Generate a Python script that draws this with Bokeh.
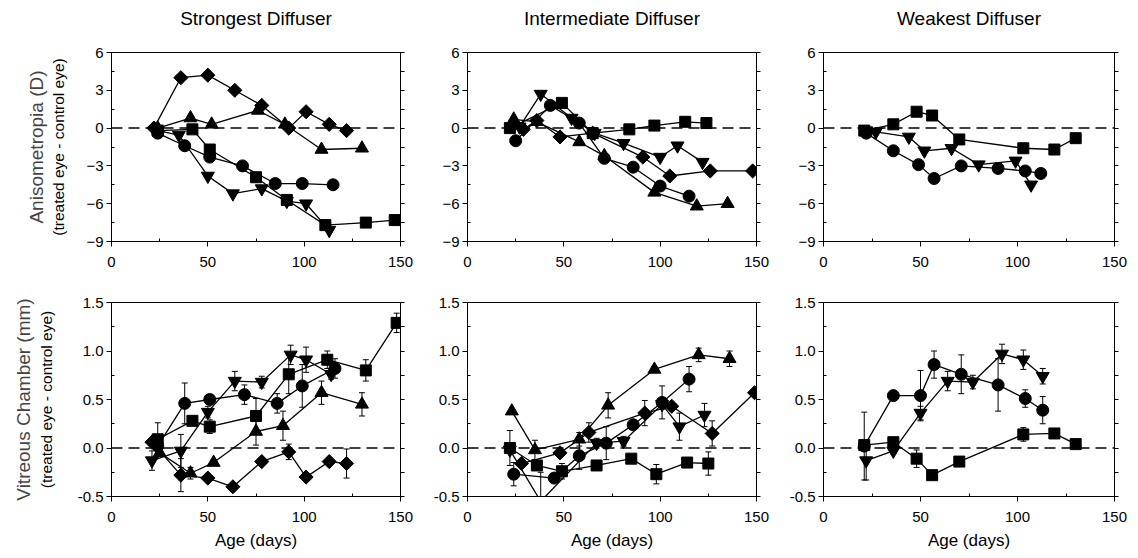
import math
from bokeh.plotting import figure
from bokeh.layouts import column, row
from bokeh.models import (Range1d, FixedTicker, LinearAxis, Span, Whisker, TeeHead,
                          ColumnDataSource, Title, NumeralTickFormatter)
from bokeh.embed import file_html
from bokeh.resources import INLINE

FONT = "Liberation Sans"

# ---------------- data ----------------
col_titles = ["Strongest Diffuser", "Intermediate Diffuser", "Weakest Diffuser"]
x_ticks = [0, 50, 100, 150]
aniso_ticks = [-9, -6, -3, 0, 3, 6]
vc_ticks = [-0.5, 0.0, 0.5, 1.0, 1.5]

# Strongest diffuser - anisometropia (D)
s_ani_circle_x = [24, 38, 51, 68, 85, 99, 115]
s_ani_circle_y = [-0.4, -1.4, -2.3, -3.0, -4.4, -4.4, -4.5]
s_ani_square_x = [24, 42, 51, 75, 91, 111, 132, 147]
s_ani_square_y = [-0.2, -0.1, -1.7, -3.9, -5.7, -7.7, -7.5, -7.3]
s_ani_tri_x = [24, 41, 52, 76, 90, 109, 130]
s_ani_tri_y = [0.0, 0.8, 0.3, 1.4, 0.3, -1.7, -1.6]
s_ani_dtri_x = [24, 35, 50, 63, 78, 91, 101, 113]
s_ani_dtri_y = [-0.2, -0.55, -3.8, -5.2, -4.8, -5.8, -6.0, -8.1]
s_ani_diam_x = [22, 36, 50, 64, 78, 92, 101, 113, 122]
s_ani_diam_y = [0.0, 4.0, 4.2, 3.0, 1.8, 0.0, 1.3, 0.3, -0.2]

# Intermediate diffuser - anisometropia (D)
i_ani_circle_x = [25, 43, 58, 71, 86, 100, 115]
i_ani_circle_y = [-1.0, 1.8, 0.4, -2.4, -3.1, -4.6, -5.4]
i_ani_square_x = [22, 49, 65, 84, 97, 113, 124]
i_ani_square_y = [0.0, 2.0, -0.4, -0.1, 0.2, 0.5, 0.4]
i_ani_tri_x = [24, 36, 58, 71, 97, 119, 135]
i_ani_tri_y = [0.7, 0.5, -1.1, -2.2, -5.1, -6.2, -6.0]
i_ani_dtri_x = [27, 38, 54, 66, 81, 100, 109, 122]
i_ani_dtri_y = [0.1, 2.7, 0.8, -0.4, -1.2, -2.3, -1.4, -2.7]
i_ani_diam_x = [29, 36, 48, 65, 91, 105, 126, 148]
i_ani_diam_y = [-0.1, 0.6, -0.7, -0.4, -2.3, -3.8, -3.4, -3.4]

# Weakest diffuser - anisometropia (D)
w_ani_circle_x = [22, 36, 49, 57, 71, 90, 104, 112]
w_ani_circle_y = [-0.4, -1.8, -2.9, -4.0, -3.0, -3.2, -3.4, -3.6]
w_ani_square_x = [21, 36, 48, 56, 70, 103, 119, 130]
w_ani_square_y = [-0.2, 0.3, 1.3, 1.0, -0.9, -1.6, -1.7, -0.8]
w_ani_dtri_x = [22, 27, 44, 52, 66, 80, 99, 107]
w_ani_dtri_y = [-0.2, -0.3, -0.7, -1.8, -1.6, -2.9, -2.6, -4.5]

# Strongest diffuser - vitreous chamber (mm), with error bars
s_vc_circle_x = [24, 38, 51, 69, 86, 99, 116]
s_vc_circle_y = [0.02, 0.46, 0.50, 0.55, 0.46, 0.64, 0.82]
s_vc_circle_e = [0, 0.21, 0.05, 0.10, 0.10, 0.22, 0.10]
s_vc_square_x = [24, 42, 51, 75, 92, 112, 132, 148]
s_vc_square_y = [0.09, 0.28, 0.22, 0.33, 0.76, 0.91, 0.80, 1.29]
s_vc_square_e = [0.17, 0.05, 0.07, 0.18, 0.20, 0.09, 0.11, 0.10]
s_vc_tri_x = [25, 41, 53, 75, 89, 109, 130]
s_vc_tri_y = [-0.05, -0.26, -0.15, 0.17, 0.23, 0.57, 0.45]
s_vc_tri_e = [0, 0.06, 0.03, 0.14, 0.15, 0.12, 0.12]
s_vc_dtri_x = [21, 36, 50, 64, 78, 93, 101, 114]
s_vc_dtri_y = [-0.13, -0.03, 0.37, 0.69, 0.68, 0.96, 0.91, 0.76]
s_vc_dtri_e = [0.10, 0.17, 0.06, 0.10, 0.06, 0.10, 0.13, 0.05]
s_vc_diam_x = [21, 36, 50, 63, 78, 92, 101, 113, 122]
s_vc_diam_y = [0.06, -0.28, -0.31, -0.40, -0.14, -0.04, -0.30, -0.14, -0.16]
s_vc_diam_e = [0, 0.17, 0.04, 0.02, 0.03, 0.08, 0.03, 0.03, 0.15]

# Intermediate diffuser - vitreous chamber (mm)
i_vc_circle_x = [24, 45, 58, 72, 86, 101, 115]
i_vc_circle_y = [-0.27, -0.31, -0.08, 0.05, 0.24, 0.47, 0.71]
i_vc_circle_e = [0.12, 0.03, 0.14, 0.17, 0.05, 0.17, 0.13]
i_vc_square_x = [22, 36, 49, 67, 85, 98, 114, 125]
i_vc_square_y = [0.0, -0.18, -0.24, -0.18, -0.11, -0.27, -0.15, -0.16]
i_vc_square_e = [0.18, 0.03, 0.08, 0.03, 0.03, 0.10, 0.03, 0.12]
i_vc_tri_x = [23, 35, 58, 73, 97, 120, 136]
i_vc_tri_y = [0.38, -0.02, 0.09, 0.44, 0.81, 0.96, 0.92]
i_vc_tri_e = [0, 0.10, 0.07, 0.13, 0.03, 0.07, 0.08]
i_vc_dtri_x = [22, 38, 67, 81, 101, 110, 123]
i_vc_dtri_y = [-0.02, -0.55, 0.05, 0.07, 0.45, 0.22, 0.34]
i_vc_dtri_e = [0, 0.30, 0.05, 0.05, 0.05, 0.14, 0.12]
i_vc_diam_x = [28, 48, 63, 92, 106, 127, 149]
i_vc_diam_y = [-0.16, -0.05, 0.16, 0.36, 0.43, 0.15, 0.57]
i_vc_diam_e = [0, 0.02, 0.10, 0.13, 0.04, 0.13, 0]

# Weakest diffuser - vitreous chamber (mm)
w_vc_circle_x = [21, 36, 50, 57, 71, 90, 104, 113]
w_vc_circle_y = [0.02, 0.54, 0.54, 0.86, 0.76, 0.65, 0.51, 0.39]
w_vc_circle_e = [0.35, 0.03, 0.26, 0.14, 0.20, 0.27, 0.09, 0.14]
w_vc_dtri_x = [22, 36, 50, 64, 77, 92, 103, 113]
w_vc_dtri_y = [-0.13, -0.03, 0.36, 0.69, 0.68, 0.97, 0.91, 0.74]
w_vc_dtri_e = [0.20, 0.03, 0.07, 0.10, 0.07, 0.10, 0.10, 0.08]
w_vc_square_x = [21, 36, 48, 56, 70, 103, 119, 130]
w_vc_square_y = [0.03, 0.06, -0.11, -0.28, -0.14, 0.14, 0.15, 0.04]
w_vc_square_e = [0.03, 0.03, 0.09, 0.03, 0.03, 0.07, 0.03, 0.03]

# ---------------- styling ----------------
MARK = {
    "circle": dict(marker="circle", size=12, angle=0),
    "square": dict(marker="square", size=11, angle=0),
    "tri": dict(marker="triangle", size=13, angle=0),
    "dtri": dict(marker="inverted_triangle", size=13, angle=0),
    "diam": dict(marker="square", size=10, angle=math.pi / 4),
}

COL_FW = [289, 289, 291]
COL_BL = [111, 42, 37]
COL_BR = [25, 30, 24]
ROW_FH = [189, 194]
ROW_BT = [52, 32]
ROW_BB = [29, 62]


def draw_series(p, kind, xs, ys, errs=None):
    if errs is not None:
        ex = [x for x, e in zip(xs, errs) if e > 0]
        up = [y + e for y, e in zip(ys, errs) if e > 0]
        lo = [y - e for y, e in zip(ys, errs) if e > 0]
        src = ColumnDataSource(dict(x=ex, upper=up, lower=lo))
        w = Whisker(source=src, base="x", upper="upper", lower="lower",
                    line_color="black", line_width=1, level="underlay",
                    upper_head=TeeHead(size=6, line_color="black", line_width=1),
                    lower_head=TeeHead(size=6, line_color="black", line_width=1))
        p.add_layout(w)
    p.line(xs, ys, line_color="black", line_width=1.3)
    m = MARK[kind]
    p.scatter(xs, ys, marker=m["marker"], size=m["size"], angle=m["angle"],
              fill_color="black", line_color="black")


def make_panel(ci, ri, series):
    yr = Range1d(-9, 6) if ri == 0 else Range1d(-0.5, 1.5)
    p = figure(frame_width=COL_FW[ci], frame_height=ROW_FH[ri],
               min_border_left=COL_BL[ci], min_border_right=COL_BR[ci],
               min_border_top=ROW_BT[ri], min_border_bottom=ROW_BB[ri],
               x_range=Range1d(0, 150), y_range=yr,
               output_backend="svg", toolbar_location=None)
    p.background_fill_color = "white"
    p.border_fill_color = "white"
    p.outline_line_color = "black"
    p.outline_line_width = 1
    p.xgrid.visible = False
    p.ygrid.visible = False

    xa = p.below[0]
    ya = p.left[0]

    if ri == 0:
        # column title as the label of a tick-less axis above the frame
        ta = LinearAxis(ticker=FixedTicker(ticks=[], minor_ticks=[]),
                        axis_label=col_titles[ci])
        ta.axis_line_color = None
        ta.major_tick_line_color = None
        ta.minor_tick_line_color = None
        ta.major_label_text_color = None
        ta.major_tick_out = 0
        ta.minor_tick_out = 0
        ta.major_label_standoff = 0
        ta.axis_label_standoff = 24
        ta.axis_label_text_font = FONT
        ta.axis_label_text_font_size = "19px"
        ta.axis_label_text_font_style = "normal"
        ta.axis_label_text_color = "black"
        p.add_layout(ta, "above")

    span = Span(location=0, dimension="width", line_color="black",
                line_width=1.5, line_dash="11 6", level="underlay")
    p.add_layout(span)

    for s in series:
        draw_series(p, *s)

    xa.ticker = FixedTicker(ticks=x_ticks, minor_ticks=[25, 75, 125])
    if ri == 0:
        ya.ticker = FixedTicker(ticks=aniso_ticks, minor_ticks=[-7.5, -4.5, -1.5, 1.5, 4.5])
    else:
        ya.ticker = FixedTicker(ticks=vc_ticks, minor_ticks=[-0.25, 0.25, 0.75, 1.25])
        ya.formatter = NumeralTickFormatter(format="0.0")

    for ax in (xa, ya):
        ax.axis_line_color = "black"
        ax.axis_line_width = 1
        ax.major_tick_line_color = "black"
        ax.minor_tick_line_color = "black"
        ax.major_tick_out = 5
        ax.major_tick_in = 0
        ax.minor_tick_out = 0
        ax.minor_tick_in = 3
        ax.major_label_text_font = FONT
        ax.major_label_text_font_size = "15px"
        ax.major_label_text_color = "black"
        ax.axis_label_text_font = FONT
        ax.axis_label_text_font_style = "normal"
        ax.axis_label_text_color = "black"
    xa.major_label_standoff = 10
    ya.major_label_standoff = 3

    if ri == 1:
        xa.axis_label = "Age (days)"
        xa.axis_label_text_font_size = "17px"
        xa.axis_label_standoff = 6

    # right axis with ticks only (labels not drawn)
    ra = LinearAxis(ticker=FixedTicker(ticks=ya.ticker.ticks, minor_ticks=ya.ticker.minor_ticks))
    ra.major_label_text_color = None
    ra.major_label_text_font_size = "8px"
    ra.major_label_standoff = 0
    ra.axis_line_color = "black"
    ra.major_tick_line_color = "black"
    ra.minor_tick_line_color = "black"
    ra.major_tick_out = 4
    ra.major_tick_in = 0
    ra.minor_tick_out = 4
    ra.minor_tick_in = 0
    p.add_layout(ra, "right")

    if ci == 0:
        ya.axis_label = "(treated eye - control eye)"
        ya.axis_label_text_font_size = "15.5px"
        ya.axis_label_standoff = 16 if ri == 0 else 20
        main = "Anisometropia (D)" if ri == 0 else "Vitreous Chamber (mm)"
        p.add_layout(Title(text=main, align="center", text_font=FONT,
                           text_font_size="19px", text_font_style="normal",
                           standoff=2), "left")
    return p


panels_series = [
    [  # strongest, anisometropia
        ("diam", s_ani_diam_x, s_ani_diam_y),
        ("tri", s_ani_tri_x, s_ani_tri_y),
        ("circle", s_ani_circle_x, s_ani_circle_y),
        ("square", s_ani_square_x, s_ani_square_y),
        ("dtri", s_ani_dtri_x, s_ani_dtri_y),
    ],
    [
        ("diam", i_ani_diam_x, i_ani_diam_y),
        ("tri", i_ani_tri_x, i_ani_tri_y),
        ("circle", i_ani_circle_x, i_ani_circle_y),
        ("square", i_ani_square_x, i_ani_square_y),
        ("dtri", i_ani_dtri_x, i_ani_dtri_y),
    ],
    [
        ("circle", w_ani_circle_x, w_ani_circle_y),
        ("square", w_ani_square_x, w_ani_square_y),
        ("dtri", w_ani_dtri_x, w_ani_dtri_y),
    ],
    [
        ("diam", s_vc_diam_x, s_vc_diam_y, s_vc_diam_e),
        ("tri", s_vc_tri_x, s_vc_tri_y, s_vc_tri_e),
        ("circle", s_vc_circle_x, s_vc_circle_y, s_vc_circle_e),
        ("square", s_vc_square_x, s_vc_square_y, s_vc_square_e),
        ("dtri", s_vc_dtri_x, s_vc_dtri_y, s_vc_dtri_e),
    ],
    [
        ("diam", i_vc_diam_x, i_vc_diam_y, i_vc_diam_e),
        ("tri", i_vc_tri_x, i_vc_tri_y, i_vc_tri_e),
        ("circle", i_vc_circle_x, i_vc_circle_y, i_vc_circle_e),
        ("square", i_vc_square_x, i_vc_square_y, i_vc_square_e),
        ("dtri", i_vc_dtri_x, i_vc_dtri_y, i_vc_dtri_e),
    ],
    [
        ("circle", w_vc_circle_x, w_vc_circle_y, w_vc_circle_e),
        ("square", w_vc_square_x, w_vc_square_y, w_vc_square_e),
        ("dtri", w_vc_dtri_x, w_vc_dtri_y, w_vc_dtri_e),
    ],
]

figs = []
for k, ser in enumerate(panels_series):
    ri, ci = divmod(k, 3)
    figs.append(make_panel(ci, ri, ser))

layout = column(row(figs[0], figs[1], figs[2], spacing=0),
                row(figs[3], figs[4], figs[5], spacing=0), spacing=0)

open("out.html", "w").write(file_html(layout, INLINE))
